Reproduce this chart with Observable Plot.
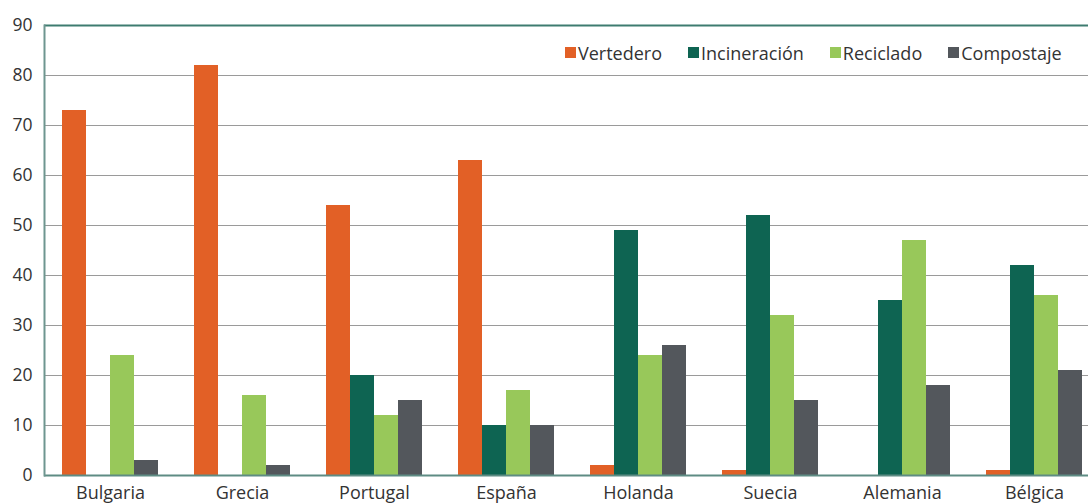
<!DOCTYPE html>
<html><head><meta charset="utf-8">
<script src="https://cdn.jsdelivr.net/npm/d3@7"></script>
<script src="https://cdn.jsdelivr.net/npm/@observablehq/plot@0.6"></script>
<style>
html,body{margin:0;padding:0;background:#fff;overflow:hidden;width:1088px;height:503px;}
#wrap{position:relative;width:1100px;height:503px;}
#legend{position:absolute;left:565px;top:36px;}
#legend, #legend *{font-family:"Open Sans",sans-serif !important;font-size:18px !important;color:#333 !important;}
.lg-swatch{margin-right:26px !important;}
.lg-swatch svg{margin-right:2px !important;}
</style></head>
<body><div id="wrap"><div id="legend"></div></div>
<script>
const countries = ["Bulgaria","Grecia","Portugal","España","Holanda","Suecia","Alemania","Bélgica"];
const series = ["Vertedero","Incineración","Reciclado","Compostaje"];
const colors = ["#E26026","#0E6452","#98C85A","#53575C"];
const vertedero   = [73, 82, 54, 63, 2, 1, 0, 1];
const incineracion= [0, 0, 20, 10, 49, 52, 35, 42];
const reciclado   = [24, 16, 12, 17, 24, 32, 47, 36];
const compostaje  = [3, 2, 15, 10, 26, 15, 18, 21];
const yTicks = [0,10,20,30,40,50,60,70,80,90];

const cols = [vertedero, incineracion, reciclado, compostaje];
const data = [];
countries.forEach((c, i) => series.forEach((s, j) => data.push({country: c, serie: s, value: cols[j][i]})));

const chart = Plot.plot({
  width: 1100, height: 503,
  marginLeft: 44, marginRight: 0, marginTop: 25, marginBottom: 28,
  style: {fontFamily: "Open Sans, sans-serif", fontSize: "17px", color: "#333", background: "#fff"},
  fx: {domain: countries, padding: 0, label: null},
  x: {domain: series, paddingInner: 0, paddingOuter: 0.75, axis: null},
  y: {domain: [0, 90], ticks: yTicks, label: null},
  color: {domain: series, range: colors},
  marks: [
    Plot.gridY(yTicks.filter(t => t > 0 && t < 90), {stroke: "#9a9a9a", strokeOpacity: 1, strokeWidth: 1}),
    Plot.axisY(yTicks, {tickSize: 0, tickPadding: 12, fontSize: 17.5, fill: "#333", label: null}),
    Plot.axisFx({anchor: "bottom", tickSize: 0, tickPadding: 11, fontSize: 18, fill: "#333", label: null}),
    Plot.barY(data, {fx: "country", x: "serie", y: "value", fill: "serie"}),
    Plot.ruleY([90], {stroke: "#3E7C70", strokeWidth: 2}),
    Plot.ruleY([0], {stroke: "#5E8C84", strokeWidth: 2}),
    Plot.frame({anchor: "left", stroke: "#6E9690", strokeWidth: 2, fx: () => countries[0]})
  ]
});
document.getElementById("wrap").prepend(chart);
const lg = Plot.legend({color: {domain: series, range: colors}, legend: "swatches", swatchSize: 11, className: "lg",
  style: {fontFamily: "Open Sans, sans-serif", fontSize: "18px", color: "#333"}});
document.getElementById("legend").append(lg);
</script></body></html>
